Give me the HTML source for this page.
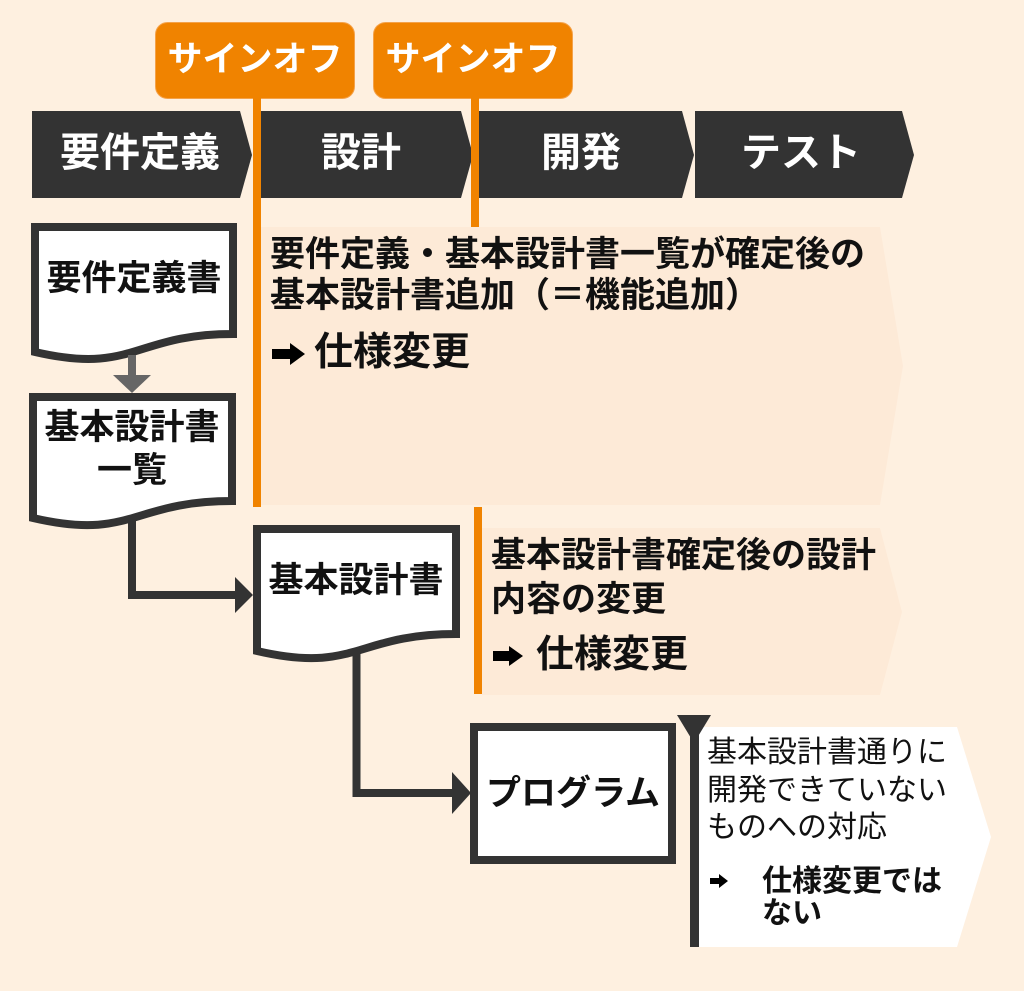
<!DOCTYPE html>
<html><head><meta charset="utf-8">
<style>
html,body{margin:0;padding:0;}
body{width:1024px;height:991px;background:#FEF0E0;position:relative;overflow:hidden;font-family:"Liberation Sans","Noto Sans CJK JP",sans-serif;}
svg{position:absolute;left:0;top:0;}
.t{position:absolute;white-space:nowrap;color:#111;}
.b{font-weight:bold;}
.w{color:#fff;font-weight:bold;}
.c{text-align:center;}
</style></head>
<body>
<svg width="1024" height="991" viewBox="0 0 1024 991">
  <!-- panels -->
  <polygon points="260,227 880,227 903,366 880,505 260,505" fill="#FDEAD7"/>
  <polygon points="482,528 880,528 902,612 880,695 482,695" fill="#FDEAD7"/>
  <polygon points="699,727 957,727 991,837 957,947 699,947" fill="#FFFFFF"/>
  <!-- phase bars -->
  <polygon points="32,111 240,111 252,155 240,198 32,198" fill="#333"/>
  <polygon points="253,111 461,111 473,155 461,198 253,198" fill="#333"/>
  <polygon points="474,111 682,111 694,155 682,198 474,198" fill="#333"/>
  <polygon points="695,111 902,111 914,155 902,198 695,198" fill="#333"/>
  <!-- sign-off boxes -->
  <rect x="155.5" y="22.5" width="199" height="76" rx="12" fill="#F08300" stroke="#F4A24A" stroke-width="1"/>
  <rect x="373.5" y="22.5" width="199" height="76" rx="12" fill="#F08300" stroke="#F4A24A" stroke-width="1"/>
  <!-- orange lines -->
  <rect x="253" y="98" width="8" height="409" fill="#F08300"/>
  <rect x="471" y="98" width="8" height="129" fill="#F08300"/>
  <rect x="474" y="507" width="8" height="187" fill="#F08300"/>
  <!-- documents -->
  <path d="M35,227 L233,227 L233,334 C134,334 134,375 35,352 Z" fill="#fff" stroke="#333" stroke-width="8" stroke-linejoin="miter"/>
  <path d="M33,397 L232,397 L232,501 C132,501 132,541 33,518 Z" fill="#fff" stroke="#333" stroke-width="8"/>
  <path d="M257,529 L456,529 L456,634 C356,634 356,674 257,651 Z" fill="#fff" stroke="#333" stroke-width="8"/>
  <rect x="474" y="727" width="198" height="133" fill="#fff" stroke="#333" stroke-width="8"/>
  <!-- gray arrow -->
  <rect x="128" y="355" width="8" height="21" fill="#666"/>
  <polygon points="113,375 151,375 132,393" fill="#666"/>
  <!-- connector box2 -> box3 -->
  <polyline points="132,520 132,595 237,595" fill="none" stroke="#333" stroke-width="8"/>
  <polygon points="235,577 235,613 253,595" fill="#333"/>
  <!-- connector box3 -> box4 -->
  <polyline points="356.5,652 356.5,793 455,793" fill="none" stroke="#333" stroke-width="8"/>
  <polygon points="452,772 452,814 471,793" fill="#333"/>
  <!-- dark marker line -->
  <rect x="690" y="715" width="9" height="232" fill="#333"/>
  <polygon points="677,715 711,715 694,743" fill="#333"/>
  <!-- arrows -->
  <polygon points="272,349 290,349 290,343 305,354 290,365 290,359 272,359" fill="#000"/>
  <polygon points="493,651 509,651 509,646 523,656 509,666 509,661 493,661" fill="#000"/>
  <polygon points="710,878 719,878 719,874 728,881 719,888 719,884 710,884" fill="#000"/>
</svg>

<!-- sign-off labels -->
<div class="t w c" style="left:155px;width:200px;top:42px;font-size:35px;line-height:35px;">サインオフ</div>
<div class="t w c" style="left:373px;width:200px;top:42px;font-size:35px;line-height:35px;">サインオフ</div>

<!-- bar labels -->
<div class="t w c" style="left:38px;width:204px;top:133px;font-size:40px;line-height:40px;">要件定義</div>
<div class="t w c" style="left:259px;width:204px;top:133px;font-size:40px;line-height:40px;">設計</div>
<div class="t w c" style="left:479px;width:204px;top:133px;font-size:40px;line-height:40px;">開発</div>
<div class="t w c" style="left:699px;width:204px;top:133px;font-size:40px;line-height:40px;">テスト</div>

<!-- documents text -->
<div class="t b c" style="left:34px;width:200px;top:261px;font-size:35px;line-height:35px;">要件定義書</div>
<div class="t b c" style="left:32px;width:200px;top:410px;font-size:35px;line-height:35px;">基本設計書</div>
<div class="t b c" style="left:32px;width:200px;top:453px;font-size:35px;line-height:35px;">一覧</div>
<div class="t b c" style="left:256px;width:200px;top:563px;font-size:35px;line-height:35px;">基本設計書</div>
<div class="t b c" style="left:473px;width:200px;top:776px;font-size:35px;line-height:35px;">プログラム</div>

<!-- panel 1 -->
<div class="t b" style="left:270px;top:237px;font-size:35px;line-height:35px;">要件定義・基本設計書一覧が確定後の</div>
<div class="t b" style="left:270px;top:278px;font-size:35px;line-height:35px;">基本設計書追加（＝機能追加）</div>
<div class="t b" style="left:314px;top:333px;font-size:39px;line-height:39px;">仕様変更</div>

<!-- panel 2 -->
<div class="t b" style="left:491px;top:538px;font-size:35px;line-height:35px;">基本設計書確定後の設計</div>
<div class="t b" style="left:491px;top:582px;font-size:35px;line-height:35px;">内容の変更</div>
<div class="t b" style="left:536px;top:636px;font-size:38px;line-height:38px;">仕様変更</div>

<!-- panel 3 -->
<div class="t" style="left:707px;top:738px;font-size:30px;line-height:30px;">基本設計書通りに</div>
<div class="t" style="left:707px;top:776px;font-size:30px;line-height:30px;">開発できていない</div>
<div class="t" style="left:707px;top:813px;font-size:30px;line-height:30px;">ものへの対応</div>
<div class="t b" style="left:762px;top:867px;font-size:30px;line-height:30px;">仕様変更では</div>
<div class="t b" style="left:762px;top:899px;font-size:30px;line-height:30px;">ない</div>
</body></html>
